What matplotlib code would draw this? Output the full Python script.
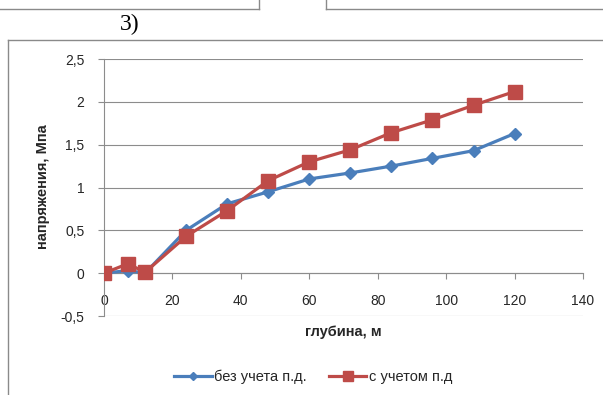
import matplotlib
matplotlib.use("Agg")
import matplotlib.pyplot as plt
from matplotlib.lines import Line2D

# глубина, м
depth = [0, 7, 12, 24, 36, 48, 60, 72, 84, 96, 108, 120]
# напряжения, МПа
stress_no_pd = [0, 0.03, 0.0, 0.50, 0.81, 0.95, 1.10, 1.17, 1.25, 1.34, 1.43, 1.63]
stress_pd = [0, 0.11, 0.01, 0.43, 0.73, 1.08, 1.30, 1.44, 1.64, 1.79, 1.96, 2.12]

series_names = ["без учета п.д.", "с учетом п.д"]
x_ticks = [0, 20, 40, 60, 80, 100, 120, 140]
y_ticks = [-0.5, 0, 0.5, 1, 1.5, 2, 2.5]

W, H = 603, 395
plt.rcParams["font.family"] = ["Liberation Sans", "DejaVu Sans"]
txt = "#262626"
grid = "#8c8c8c"

fig = plt.figure(figsize=(W / 100, H / 100), dpi=100)


def px(x0, y0, x1, y1):
    # figure line in pixel coordinates (origin top-left)
    fig.add_artist(Line2D([x0 / W, x1 / W], [1 - y0 / H, 1 - y1 / H],
                          color="#8a8a8a", lw=1.0))


# page frame around the chart
px(0, 9, 259, 9)
px(259, 0, 259, 9)
px(326, 0, 326, 9)
px(326, 9, W, 9)
px(8, 40, W, 40)
px(8, 40, 8, H)
fig.text(130 / W, 1 - 24 / H, "3)", family="Liberation Serif", fontsize=17,
         ha="center", va="center", color="black")

left, right, top, bottom = 104, 583, 59, 316
ax = fig.add_axes([left / W, 1 - bottom / H, (right - left) / W, (bottom - top) / H])

ax.plot(depth, stress_no_pd, color="#4a7ebb", lw=2.3, marker="D", ms=6.5,
        label=series_names[0], zorder=3)
ax.plot(depth, stress_pd, color="#be4b48", lw=2.3, marker="s", ms=9.5,
        label=series_names[1], zorder=4)

ax.set_xlim(0, 140)
ax.set_ylim(-0.5, 2.5)
ax.set_xticks(x_ticks)
ax.set_yticks(y_ticks)
ax.set_yticklabels([f"{v:g}".replace(".", ",") for v in y_ticks])
ax.set_xticklabels([str(v) for v in x_ticks])

ax.yaxis.grid(True, color=grid, lw=0.8)
ax.set_axisbelow(True)
for s in ["top", "right"]:
    ax.spines[s].set_visible(False)
ax.spines["bottom"].set_position(("data", 0))
ax.spines["left"].set_color(grid)
ax.spines["bottom"].set_color(grid)
ax.spines["left"].set_linewidth(0.8)
ax.spines["bottom"].set_linewidth(0.8)

ax.tick_params(axis="x", direction="out", length=4, color=grid, pad=11,
               labelsize=10, labelcolor=txt)
ax.tick_params(axis="y", direction="out", length=4, color=grid, pad=10,
               labelsize=10, labelcolor=txt)

fig.text((left + right) / 2 / W, 1 - 332 / H, "глубина, м", fontsize=10.5,
         fontweight="bold", ha="center", va="center", color=txt)
fig.text(43 / W, 1 - 187 / H, "напряжения, Мпа", fontsize=10.5,
         fontweight="bold", ha="center", va="center", rotation=90, color=txt)

fig.legend(loc="center", bbox_to_anchor=(313 / W, 1 - 377 / H), ncol=2,
           frameon=False, fontsize=10.5, handlelength=2.6, handletextpad=0.15,
           columnspacing=1.5, labelcolor=txt, markerscale=0.7)

fig.savefig("out.png", dpi=100)
